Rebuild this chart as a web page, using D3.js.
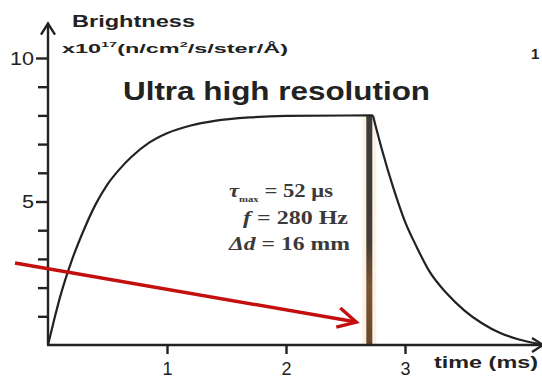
<!DOCTYPE html>
<html>
<head>
<meta charset="utf-8">
<script src="https://cdn.jsdelivr.net/npm/d3@7"></script>
<style>
  body { margin: 0; background: #fff; }
  svg { display: block; }
  .lbl { font-family: "Liberation Sans", Arial, sans-serif; fill: #222; }
  .ann { font-family: "Liberation Serif", "Times New Roman", serif; font-weight: bold; fill: #3a3a3a; }
</style>
</head>
<body>
<div id="chart"></div>
<script>
// brightness pulse (time in ms, brightness x10^17)
var riseTime = [0, 0.05, 0.1, 0.2, 0.3, 0.4, 0.5, 0.6, 0.7, 0.85, 1.0, 1.2, 1.4, 1.7, 2.0, 2.73];
var riseValue = [0, 0.85, 1.65, 2.95, 4.0, 4.9, 5.6, 6.12, 6.55, 7.05, 7.38, 7.65, 7.81, 7.93, 7.98, 8.0];
var decayTime = [2.73, 2.8, 2.9, 3.0, 3.1, 3.2, 3.35, 3.5, 3.65, 3.8, 3.95, 4.13];
var decayValue = [8.0, 6.9, 5.5, 4.3, 3.4, 2.6, 1.8, 1.2, 0.75, 0.42, 0.2, 0.03];
var pulseTime = 2.70;      // chopper window
var pulseTop = 8.0;
var xTicks = [1, 2, 3];
var yMajor = [5, 10];
var yMinor = [1, 2, 3, 4, 6, 7, 8, 9];
var notes = ["= 52 μs", "= 280 Hz", "= 16 mm"];

var width = 542, height = 379;
var x = d3.scaleLinear().domain([0, 3]).range([48, 405]);
var y = d3.scaleLinear().domain([0, 10]).range([345, 58]);
var ink = "#222";

var svg = d3.select("#chart").append("svg")
    .attr("width", width)
    .attr("height", height);

var defs = svg.append("defs");
var grad = defs.append("linearGradient").attr("id", "pulseGrad")
    .attr("x1", 0).attr("y1", 0).attr("x2", 0).attr("y2", 1);
grad.append("stop").attr("offset", "0%").attr("stop-color", "#3a3a3a");
grad.append("stop").attr("offset", "55%").attr("stop-color", "#443c36");
grad.append("stop").attr("offset", "75%").attr("stop-color", "#7a5533");
grad.append("stop").attr("offset", "100%").attr("stop-color", "#6a472b");

// the pulse window (glow + bar)
svg.append("rect")
    .attr("x", x(pulseTime) - 7)
    .attr("y", y(pulseTop))
    .attr("width", 14)
    .attr("height", y(0) - y(pulseTop))
    .attr("fill", "#f3c690")
    .attr("opacity", 0.25);
svg.append("rect")
    .attr("x", x(pulseTime) - 3)
    .attr("y", y(pulseTop))
    .attr("width", 6)
    .attr("height", y(0) - y(pulseTop))
    .attr("fill", "url(#pulseGrad)");

// brightness curve: rise then decay
var line = d3.line()
    .x(function (d) { return x(d[0]); })
    .y(function (d) { return y(d[1]); })
    .curve(d3.curveMonotoneX);
var rise = riseTime.map(function (t, i) { return [t, riseValue[i]]; });
var decay = decayTime.map(function (t, i) { return [t, decayValue[i]]; });
[rise, decay].forEach(function (seg) {
    svg.append("path")
        .attr("d", line(seg))
        .attr("fill", "none").attr("stroke", ink).attr("stroke-width", 2.2)
        .attr("stroke-linejoin", "round");
});

// axes
var yAxisMajor = d3.axisLeft(y).tickValues(yMajor).tickSize(12).tickSizeOuter(0).tickPadding(3);
var yAxisMinor = d3.axisLeft(y).tickValues(yMinor).tickSize(10).tickFormat("");
var xAxis = d3.axisBottom(x).tickValues(xTicks).tickSize(9).tickSizeOuter(0)
    .tickPadding(8).tickFormat(d3.format("d"));

var gy = svg.append("g").attr("transform", "translate(" + x(0) + ",0)");
gy.call(yAxisMinor);
gy.append("g").call(yAxisMajor);
var gx = svg.append("g").attr("transform", "translate(0," + y(0) + ")").call(xAxis);

svg.selectAll(".domain").remove();
svg.selectAll(".tick line").attr("stroke", ink).attr("stroke-width", 2.4);
gy.selectAll(".tick text")
    .attr("class", "lbl").style("font-size", "18px").attr("fill", ink)
    .attr("transform", "scale(1.2,1)")
    .attr("x", -14 / 1.2).attr("dy", "0.36em");
gx.selectAll(".tick text")
    .attr("class", "lbl").style("font-size", "18px").attr("fill", ink);

// axis lines with open arrow heads
var yTop = y(11.2), xEnd = x(4.16);
svg.append("line").attr("x1", x(0)).attr("x2", x(0)).attr("y1", y(0)).attr("y2", yTop)
    .attr("stroke", ink).attr("stroke-width", 2.4);
svg.append("path")
    .attr("d", "M" + (x(0) - 7) + "," + (yTop + 11) + "L" + x(0) + "," + yTop + "L" + (x(0) + 7) + "," + (yTop + 11))
    .attr("fill", "none").attr("stroke", ink).attr("stroke-width", 2.4);
svg.append("line").attr("x1", x(0) - 1).attr("x2", xEnd).attr("y1", y(0)).attr("y2", y(0))
    .attr("stroke", ink).attr("stroke-width", 2.4);
svg.append("path")
    .attr("d", "M" + (xEnd - 11) + "," + (y(0) - 7) + "L" + xEnd + "," + y(0) + "L" + (xEnd - 11) + "," + (y(0) + 7))
    .attr("fill", "none").attr("stroke", ink).attr("stroke-width", 2.4);

// red pointer arrow
var tipX = x(pulseTime) - 13, tipY = y(0.8);
svg.append("line").attr("x1", 15).attr("y1", 263).attr("x2", tipX).attr("y2", tipY)
    .attr("stroke", "#c40f0f").attr("stroke-width", 3.4);
svg.append("path")
    .attr("d", "M" + (tipX - 16) + "," + (tipY - 14) + "L" + tipX + "," + tipY + "L" + (tipX - 20) + "," + (tipY + 5))
    .attr("fill", "none").attr("stroke", "#c40f0f").attr("stroke-width", 3.4)
    .attr("stroke-linejoin", "miter");

// titles
svg.append("text").attr("class", "lbl")
    .attr("x", 72).attr("y", 27)
    .style("font-size", "16px").style("font-weight", "bold")
    .attr("textLength", 123).attr("lengthAdjust", "spacingAndGlyphs")
    .text("Brightness");

var unit = svg.append("text").attr("class", "lbl")
    .attr("x", 62).attr("y", 53)
    .style("font-size", "13px").style("font-weight", "bold")
    .attr("textLength", 226).attr("lengthAdjust", "spacingAndGlyphs");
unit.append("tspan").text("x10");
unit.append("tspan").attr("dy", -6).style("font-size", "8px").text("17");
unit.append("tspan").attr("dy", 6).text("(n/cm");
unit.append("tspan").attr("dy", -6).style("font-size", "8px").text("2");
unit.append("tspan").attr("dy", 6).text("/s/ster/Å)");

svg.append("text").attr("class", "lbl")
    .attr("x", 123).attr("y", 100)
    .style("font-size", "25px").style("font-weight", "bold")
    .attr("textLength", 307).attr("lengthAdjust", "spacingAndGlyphs")
    .text("Ultra high resolution");

svg.append("text").attr("class", "lbl")
    .attr("x", 434).attr("y", 368)
    .style("font-size", "17px").style("font-weight", "bold")
    .attr("textLength", 104).attr("lengthAdjust", "spacingAndGlyphs")
    .text("time (ms)");

svg.append("text").attr("class", "lbl")
    .attr("x", 531).attr("y", 59)
    .style("font-size", "15px").style("font-weight", "bold")
    .text("1");

// parameter notes
var n1 = svg.append("text").attr("class", "ann").attr("x", 229).attr("y", 197)
    .style("font-size", "19px").attr("textLength", 104).attr("lengthAdjust", "spacingAndGlyphs");
n1.append("tspan").style("font-style", "italic").text("τ");
n1.append("tspan").attr("dy", 5).style("font-size", "9px").text("max");
n1.append("tspan").attr("dy", -5).text(" " + notes[0]);

var n2 = svg.append("text").attr("class", "ann").attr("x", 243).attr("y", 224)
    .style("font-size", "19px").attr("textLength", 105).attr("lengthAdjust", "spacingAndGlyphs");
n2.append("tspan").style("font-style", "italic").text("f");
n2.append("tspan").text(" " + notes[1]);

var n3 = svg.append("text").attr("class", "ann").attr("x", 229).attr("y", 250)
    .style("font-size", "19px").attr("textLength", 121).attr("lengthAdjust", "spacingAndGlyphs");
n3.append("tspan").style("font-style", "italic").text("Δd");
n3.append("tspan").text(" " + notes[2]);
</script>
</body>
</html>
